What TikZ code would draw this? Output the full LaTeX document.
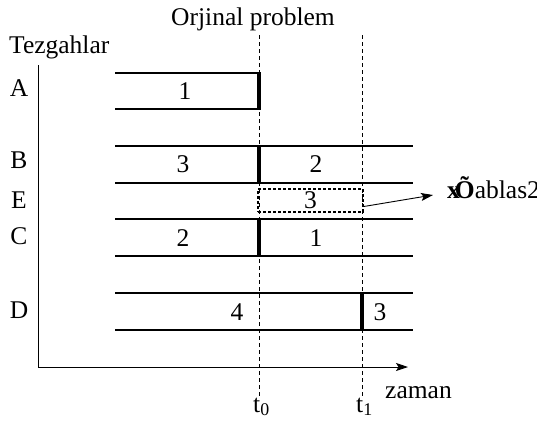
\documentclass[tikz,border=0pt]{standalone}
\usepackage{fontspec}
\setmainfont{Liberation Serif}
\usetikzlibrary{arrows.meta}
\begin{document}
\begin{tikzpicture}[x=1pt,y=-1pt,font=\fontsize{25.5}{30}\selectfont,
  bar/.style={line width=2.8pt},
  cut/.style={line width=3.4pt},
  guide/.style={dash pattern=on 4pt off 3pt,line width=0.7pt},
  arr/.style={line width=0.9pt,-{Stealth[length=12pt,width=8pt,inset=2.5pt]}}]
\useasboundingbox (0,0) rectangle (537,421);
% axes
\coordinate (top) at (38,65);
\coordinate (origin) at (38,367);
\coordinate (xend) at (408,367);
\draw[line width=0.9pt] (top) -- (origin);
\draw[arr] (origin) -- (xend);
\node[anchor=base west,inner sep=0pt] (title) at (9,53) {Tezgahlar};
\node[anchor=base west,inner sep=0pt] (orj) at (171,25) {Orjinal problem};
\node[anchor=base west,inner sep=0pt] (zaman) at (385,398) {zaman};
% time marks
\coordinate (g0) at (259,35);
\coordinate (g1) at (362,35);
\draw[guide] (g0) -- (259,396);
\draw[guide] (g1) -- (362,396);
\node[anchor=base west,inner sep=0pt] (t0) at (253,412) {t\textsubscript{0}};
\node[anchor=base west,inner sep=0pt] (t1) at (356,412) {t\textsubscript{1}};
% machines
\node (mA) at (19,88) {A};
\node (mB) at (19,160) {B};
\node (mE) at (19,200) {E};
\node (mC) at (19,236) {C};
\node (mD) at (19,310) {D};
% A
\draw[bar] (115,73) -- (260,73);
\draw[bar] (115,109) -- (260,109);
\draw[cut] (259,72) -- (259,110);
\node (a1) at (185,91) {1};
% B
\draw[bar] (115,146) -- (413,146);
\draw[bar] (115,183) -- (413,183);
\draw[cut] (259,146) -- (259,183);
\node (b1) at (183,164) {3};
\node (b2) at (316,164) {2};
% C
\draw[bar] (115,219) -- (413,219);
\draw[bar] (115,256) -- (413,256);
\draw[cut] (259,219) -- (259,256);
\node (c1) at (183,238) {2};
\node (c2) at (316,238) {1};
% D
\draw[bar] (115,293) -- (413,293);
\draw[bar] (115,330) -- (413,330);
\draw[cut] (362,293) -- (362,330);
\node (d1) at (237,312) {4};
\node (d2) at (380,312) {3};
% E (moved job)
\node[draw,line width=1.4pt,dash pattern=on 3pt off 2pt,inner sep=0pt,
  minimum width=105,minimum height=23] (box) at (310.5,200.5) {3};
\coordinate (tip) at (433,195);
\node[anchor=base west,inner sep=0pt] (tag) at (447,198) {\textbf{x}\kern-5pt\textbf{Õ}ablas2};
\draw[arr] ([yshift=-6pt]box.east) -- (tip);
\end{tikzpicture}
\end{document}
